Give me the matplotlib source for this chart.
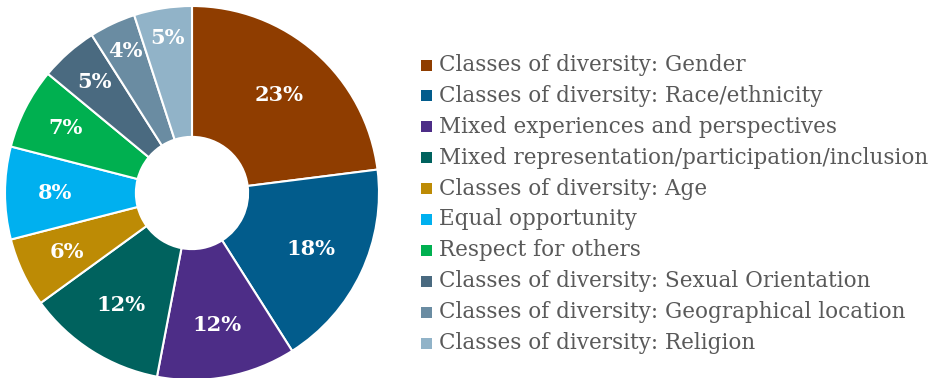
import matplotlib
matplotlib.use("Agg")
import numpy as np
import matplotlib.pyplot as plt
from matplotlib.patches import Rectangle

categories = [
    "Classes of diversity: Gender",
    "Classes of diversity: Race/ethnicity",
    "Mixed experiences and perspectives",
    "Mixed representation/participation/inclusion",
    "Classes of diversity: Age",
    "Equal opportunity",
    "Respect for others",
    "Classes of diversity: Sexual Orientation",
    "Classes of diversity: Geographical location",
    "Classes of diversity: Religion",
]
shares = [23, 18, 12, 12, 6, 8, 7, 5, 4, 5]
colors = ["#8f3d00", "#025c8c", "#4d2d87", "#00625e", "#bd8b05",
          "#00b0ef", "#00b050", "#4a6a80", "#6a8ca2", "#91b3c8"]
# radial placement of each percentage label (fraction of outer radius)
label_radius = [0.70, 0.70, 0.72, 0.71, 0.74, 0.73, 0.76, 0.79, 0.84, 0.84]

W, H = 931, 378
fig = plt.figure(figsize=(W / 100, H / 100), dpi=100)

# donut axes
cx, cy, r = 192, 193, 187
ax = fig.add_axes([(cx - r) / W, (H - cy - r) / H, 2 * r / W, 2 * r / H])
wedges, _ = ax.pie(
    shares, colors=colors, startangle=90, counterclock=False, radius=1.0,
    wedgeprops=dict(width=0.70, edgecolor="white", linewidth=1.5),
)
total = sum(shares)
for w, v, rr in zip(wedges, shares, label_radius):
    ang = np.deg2rad((w.theta1 + w.theta2) / 2)
    ax.text(rr * np.cos(ang), rr * np.sin(ang), f"{100 * v / total:.0f}%",
            ha="center", va="center", color="white", fontsize=15,
            fontweight="bold", family="DejaVu Serif")
ax.set_xlim(-1, 1)
ax.set_ylim(-1, 1)
ax.set_aspect("equal")
ax.axis("off")

# legend entries
x_box, x_text = 421, 439
y0, dy, box = 65, 30.9, 11
for i, (lab, col) in enumerate(zip(categories, colors)):
    y = y0 + i * dy
    fig.patches.append(Rectangle((x_box / W, (H - y - box / 2) / H), box / W, box / H,
                                 transform=fig.transFigure, facecolor=col,
                                 edgecolor="none"))
    fig.text(x_text / W, (H - y) / H, lab, fontsize=15.5, color="#595959",
             family="DejaVu Serif", va="center", ha="left")

fig.savefig("out.png", dpi=100, facecolor="white")
